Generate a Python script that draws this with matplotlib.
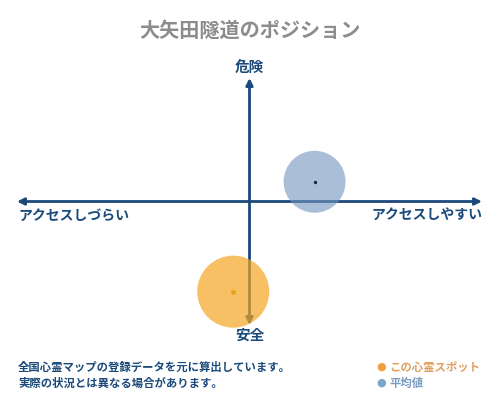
import matplotlib
matplotlib.use('Agg')
import matplotlib.pyplot as plt

plt.rcParams['font.family'] = ['Noto Sans CJK JP', 'DejaVu Sans']

title = '大矢田隧道のポジション'
top_label = '危険'
bottom_label = '安全'
left_label = 'アクセスしづらい'
right_label = 'アクセスしやすい'
notes = ['全国心霊マップの登録データを元に算出しています。',
         '実際の状況とは異なる場合があります。']
series_names = ['この心霊スポット', '平均値']

# position: x = access (easy +), y = danger (+)
spot_x, spot_y = [-0.07], [-0.73]
avg_x, avg_y = [0.28], [0.16]

navy = '#1b4a7a'
orange = '#f5a623'
blue = '#7393bd'

fig = plt.figure(figsize=(5, 4), dpi=100)
fig.patch.set_facecolor('white')

# the axes box spans the arrows (pixels 17..482 by 78..325)
ax = fig.add_axes([17/500, 1-325/400, 465/500, 247/400])
ax.set_xlim(-1, 1)
ax.set_ylim(-1, 1)
ax.axis('off')

arrow = dict(arrowstyle='<|-|>', color=navy, lw=2, mutation_scale=10, shrinkA=0, shrinkB=0)
ax.annotate('', xy=(1, 0), xytext=(-1, 0), arrowprops=arrow, zorder=1)
ax.annotate('', xy=(0, 1), xytext=(0, -1), arrowprops=arrow, zorder=1)

ax.scatter(avg_x, avg_y, s=1990, color=blue, alpha=0.6, edgecolors='none', zorder=3, clip_on=False)
ax.scatter(avg_x, avg_y, s=2, color='#1b2a3a', zorder=4, clip_on=False)
ax.scatter(spot_x, spot_y, s=2690, color=orange, alpha=0.7, edgecolors='none', zorder=3, clip_on=False)
ax.scatter(spot_x, spot_y, s=6, color='#e8a317', zorder=4, clip_on=False)

fig.text(0.5, 1-30/400, title, ha='center', va='center', fontsize=14.5,
         color='#8c8c8c', fontweight='bold')
fig.text(249/500, 1-68/400, top_label, ha='center', va='center', fontsize=10.5,
         color=navy, fontweight='bold')
fig.text(250/500, 1-335/400, bottom_label, ha='center', va='center', fontsize=10.5,
         color=navy, fontweight='bold')
fig.text(18/500, 1-216/400, left_label, ha='left', va='center', fontsize=10,
         color=navy, fontweight='bold')
fig.text(482/500, 1-216/400, right_label, ha='right', va='center', fontsize=10,
         color=navy, fontweight='bold')

for i, line in enumerate(notes):
    fig.text(18/500, 1-(367+16*i)/400, line, ha='left', va='center', fontsize=8.2,
             color=navy, fontweight='bold')

leg_colors = ['#f0a040', '#7ea4cc']
text_colors = ['#e0a060', '#7a9cc0']
for i, name in enumerate(series_names):
    y = 1-(367+16*i)/400
    fig.text(381/500, y, '●', ha='center', va='center', fontsize=8, color=leg_colors[i],
             family=['DejaVu Sans'])
    fig.text(389/500, y, name, ha='left', va='center', fontsize=8.2, color=text_colors[i],
             fontweight='bold')

fig.savefig('out.png', dpi=100, facecolor='white')
